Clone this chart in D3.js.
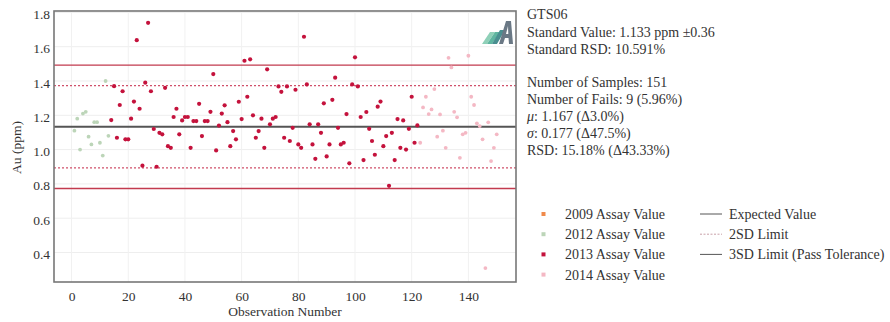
<!DOCTYPE html>
<html><head><meta charset="utf-8">
<script src="https://cdn.jsdelivr.net/npm/d3@7"></script>
<style>
body{margin:0;background:#fff}
svg{display:block}
text{font-family:"Liberation Serif","Times New Roman",serif;fill:#333}
</style>
</head><body>
<svg id="chart" width="890" height="322"></svg>
<script>
// ---------- data ----------
const obs2009 = [];
const au2009 = [];
const obs2012 = [1,2,3,4,5,6,7,8,9,10,11,12,13];
const au2012 = [1.11,1.18,1.00,1.21,1.22,1.075,1.03,1.16,1.16,1.04,0.965,1.40,1.08];
const obs2013 = [14,15,16,17,18,19,20,21,22,23,24,25,26,27,28,29,30,31,32,33,34,35,36,37,38,39,40,41,42,43,44,45,46,47,48,49,50,51,52,53,54,55,56,57,58,59,60,61,62,63,64,65,66,67,68,69,70,71,72,73,74,75,76,77,78,79,80,81,82,83,84,85,86,87,88,89,90,91,92,93,94,95,96,97,98,99,100,101,102,103,104,105,106,107,108,109,110,111,112,113,114,115,116,117,118,119,120,121,122];
const au2013 = [1.172,1.37,1.069,1.26,1.34,1.06,1.06,1.18,1.28,1.638,
  1.238,0.906,1.39,1.739,1.34,1.12,0.90,1.098,1.089,1.36,
  1.02,1.01,1.19,1.238,1.089,1.17,1.19,1.19,1.01,1.166,
  1.166,1.267,1.079,1.166,1.166,1.22,1.44,0.995,1.14,1.21,
  1.258,1.16,1.02,1.108,1.06,1.279,1.178,1.518,1.308,1.526,
  1.2,1.069,1.108,1.18,1.01,1.468,1.147,1.18,1.19,1.368,
  1.337,1.069,1.368,1.05,1.127,1.349,1.03,1.01,1.658,1.38,
  1.147,1.03,0.946,1.147,1.098,1.27,0.96,1.03,1.29,1.419,
  1.127,1.03,1.04,1.207,0.92,1.38,1.538,1.368,1.19,0.939,
  1.219,1.121,1.05,0.97,1.25,1.28,1.02,1.079,0.789,1.098,
  0.939,1.178,1.01,1.17,1.0,1.121,1.308,1.04,1.141];
const obs2014 = [123,124,125,126,127,128,129,130,131,132,133,134,135,136,137,138,139,140,141,142,143,144,145,146,147,148,149,150];
const au2014 = [1.04,1.246,1.308,1.207,1.234,1.353,1.075,1.205,1.11,1.01,1.535,1.479,1.22,1.188,0.952,1.089,1.098,1.547,1.308,1.26,1.153,1.137,1.06,0.309,1.159,0.933,1.01,1.089];

const expectedValue = 1.133;
const sd = 0.12;
const xTicks = [0,20,40,60,80,100,120,140];
const yTicks = [0.4,0.6,0.8,1.0,1.2,1.4,1.6,1.8];

const seriesNames = ["2009 Assay Value","2012 Assay Value","2013 Assay Value","2014 Assay Value"];
const seriesColors = ["#f08a4b","#bcd5b8","#c4123c","#f4b8c4"];
const lineNames = ["Expected Value","2SD Limit","3SD Limit (Pass Tolerance)"];

const infoTop = ["GTS06","Standard Value: 1.133 ppm \u00b10.36","Standard RSD: 10.591%"];
// [italic symbol, rest]
const infoStats = [["","Number of Samples: 151"],["","Number of Fails: 9 (5.96%)"],["\u03bc",": 1.167 (\u03943.0%)"],["\u03c3",": 0.177 (\u039447.5%)"],["","RSD: 15.18% (\u039443.33%)"]];

// ---------- layout ----------
const svg = d3.select("#chart");
const L = 54, R = 516, T = 11, B = 282;
const x = d3.scaleLinear().domain([-6.2, 156.8]).range([L, R]);
const y = d3.scaleLinear().domain([0.228, 1.808]).range([B, T]);

// grid
const g = svg.append("g");
g.selectAll(".gy").data(yTicks).enter().append("line")
  .attr("x1", L).attr("x2", R).attr("y1", d=>y(d)).attr("y2", d=>y(d))
  .attr("stroke", "#eeeeee").attr("stroke-width", 1);
g.selectAll(".gx").data(xTicks).enter().append("line")
  .attr("y1", T).attr("y2", B).attr("x1", d=>x(d)).attr("x2", d=>x(d))
  .attr("stroke", "#f1f1f1").attr("stroke-width", 1);

// reference lines
const refs = [
  {v: expectedValue, c: "#555", w: 2, dash: null},
  {v: expectedValue + 2*sd, c: "#d0506a", w: 1.2, dash: "2,2"},
  {v: expectedValue - 2*sd, c: "#d0506a", w: 1.2, dash: "2,2"},
  {v: expectedValue + 3*sd, c: "#c23a4e", w: 1.3, dash: null},
  {v: expectedValue - 3*sd, c: "#c23a4e", w: 1.3, dash: null}
];
g.selectAll(".ref").data(refs).enter().append("line")
  .attr("x1", L).attr("x2", R).attr("y1", d=>y(d.v)).attr("y2", d=>y(d.v))
  .attr("stroke", d=>d.c).attr("stroke-width", d=>d.w)
  .attr("stroke-dasharray", d=>d.dash);

// points
const series = [
  {obs: obs2009, au: au2009, c: seriesColors[0], r: 2},
  {obs: obs2012, au: au2012, c: seriesColors[1], r: 1.9},
  {obs: obs2013, au: au2013, c: seriesColors[2], r: 2.1},
  {obs: obs2014, au: au2014, c: seriesColors[3], r: 1.9}
];
series.forEach(s => {
  g.append("g").selectAll("circle").data(s.obs.map((o,i)=>[o, s.au[i]])).enter()
    .append("circle").attr("cx", d=>x(d[0])).attr("cy", d=>y(d[1]))
    .attr("r", s.r).attr("fill", s.c);
});

// frame
svg.append("rect").attr("x", L).attr("y", T).attr("width", R-L).attr("height", B-T)
  .attr("fill", "none").attr("stroke", "#777").attr("stroke-width", 1.6);

// axes
const xAxis = svg.append("g").attr("transform", `translate(0,${B})`)
  .call(d3.axisBottom(x).tickValues(xTicks).tickFormat(d3.format("d")).tickSize(0).tickPadding(9));
const yAxis = svg.append("g").attr("transform", `translate(${L},0)`)
  .call(d3.axisLeft(y).tickValues(yTicks).tickFormat(d3.format(".1f")).tickSize(0).tickPadding(4));
[xAxis, yAxis].forEach(a => {
  a.select(".domain").remove();
  a.selectAll("text").attr("font-family", '"Liberation Serif",serif').attr("font-size", 13.5).attr("fill", "#333");
});
yAxis.selectAll("text").attr("dy", "0.45em");

svg.append("text").attr("x", (L+R)/2).attr("y", 316).attr("text-anchor", "middle")
  .attr("font-size", 13.5).text("Observation Number");
svg.append("text").attr("transform", `translate(21,${(T+B)/2+1}) rotate(-90)`)
  .attr("text-anchor", "middle").attr("font-size", 13.5).text("Au (ppm)");

// logo
const logo = svg.append("g").attr("transform", "translate(480,20)");
logo.append("polygon").attr("points", "2,24 7,24 15,12 10,12").attr("fill", "#8fd0b8");
logo.append("polygon").attr("points", "7,24 12,24 20,12 15,12").attr("fill", "#5fb5a0");
logo.append("polygon").attr("points", "12,24 17,24 25,10 20,10").attr("fill", "#4a8f90");
logo.append("polygon").attr("points", "19,24 26,1 31,1 33,24 29,24 28.5,18 25,18 23,24").attr("fill", "#6a7885");
logo.append("polygon").attr("points", "26,14 28.3,14 28,6").attr("fill", "#fff");

// info text
const info = svg.append("g").attr("font-size", 14);
info.selectAll(".t1").data(infoTop).enter().append("text")
  .attr("x", 527).attr("y", (d,i)=>19 + i*17.5).text(d=>d);
const st = info.selectAll(".t2").data(infoStats).enter().append("text")
  .attr("x", 527).attr("y", (d,i)=>87 + i*17);
st.append("tspan").attr("font-style", "italic").text(d=>d[0]);
st.append("tspan").text(d=>d[1]);

// legend
const leg = svg.append("g").attr("font-size", 14);
seriesNames.forEach((n,i) => {
  const yy = 214 + i*20.2;
  leg.append("rect").attr("x", 541.5).attr("y", yy-2).attr("width", 4).attr("height", 4).attr("fill", seriesColors[i]);
  leg.append("text").attr("x", 565).attr("y", yy+5).text(n);
});
const lineStyles = [{c:"#555", dash:null},{c:"#c9a0a8", dash:"2,1.5"},{c:"#555", dash:null}];
lineNames.forEach((n,i) => {
  const yy = 214 + i*20.2;
  leg.append("line").attr("x1", 700).attr("x2", 722).attr("y1", yy).attr("y2", yy)
    .attr("stroke", lineStyles[i].c).attr("stroke-width", 1).attr("stroke-dasharray", lineStyles[i].dash);
  leg.append("text").attr("x", 729).attr("y", yy+5).text(n);
});
</script>
</body></html>
